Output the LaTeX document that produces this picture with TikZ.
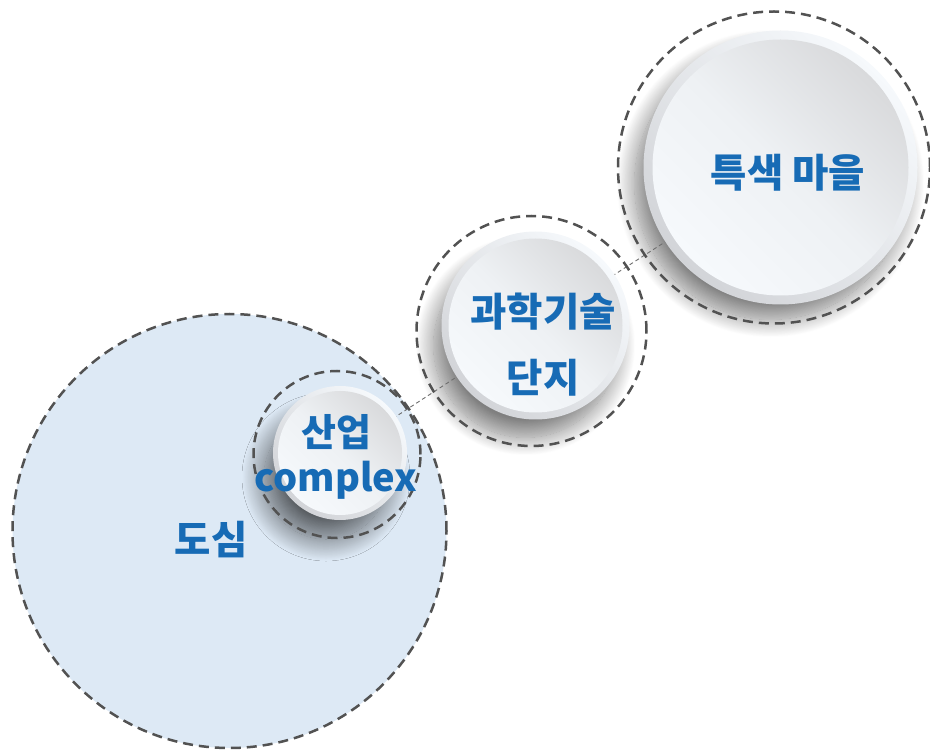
\documentclass[tikz,border=0pt]{standalone}
\usepackage{fontspec}
\newfontfamily\kr{Noto Sans CJK KR}
\usetikzlibrary{shadows.blur}
\definecolor{ringgray}{HTML}{525252}
\definecolor{conngray}{HTML}{6E6E6E}
\definecolor{lblblue}{HTML}{176BB5}
\definecolor{cityblue}{HTML}{DDE9F5}
\definecolor{ringlight}{HTML}{F6F9FC}
\definecolor{ringdark}{HTML}{D2D4D8}
\definecolor{diskgray}{HTML}{D9DADC}
\definecolor{diskmid}{HTML}{EEF1F4}
\definecolor{diskwhite}{HTML}{F6F9FC}
\tikzset{
  dashring/.style={draw=ringgray, line width=2.5pt, dash pattern=on 10pt off 6pt},
  conn/.style={draw=conngray, line width=0.9pt, dash pattern=on 4pt off 3pt},
  lbl/.style={text=lblblue, font=\kr\bfseries\fontsize{39.5pt}{44pt}\selectfont, align=center, inner sep=0pt},
  outerdisk/.style={circle, inner sep=0pt, top color=ringdark, bottom color=ringlight, shading angle=135},
  innerdisk/.style={circle, inner sep=0pt, top color=diskgray, bottom color=diskwhite, middle color=diskmid, shading angle=-45},
}
\begin{document}
\begin{tikzpicture}[x=1pt,y=-1pt]
\useasboundingbox (0,0) rectangle (930,751);
% centres
\coordinate (cCity) at (229.5,531);
\coordinate (cInd) at (340,453);
\coordinate (cSci) at (535.5,325.5);
\coordinate (cVil) at (780.5,167.5);
% city disc
\fill[cityblue] (cCity) circle (217pt);
% shadows
\path[blur shadow={shadow xshift=-14pt, shadow yshift=-24pt, shadow blur radius=22pt, shadow opacity=60, shadow blur steps=30}] (cInd) circle (62pt);
\path[blur shadow={shadow xshift=-10pt, shadow yshift=-20pt, shadow blur radius=18pt, shadow opacity=50, shadow blur steps=24}] (cSci) circle (92pt);
\path[blur shadow={shadow xshift=-10pt, shadow yshift=-16pt, shadow blur radius=18pt, shadow opacity=50, shadow blur steps=24}] (cVil) circle (136pt);
% connectors
\draw[conn] (cInd) -- (cSci);
\draw[conn] (cSci) -- (cVil);
% white discs
\node[outerdisk, minimum size=134pt] (indOuter) at (cInd) {};
\node[innerdisk, minimum size=124pt] (indInner) at (cInd) {};
\node[outerdisk, minimum size=188pt] (sciOuter) at (cSci) {};
\node[innerdisk, minimum size=174pt] (sciInner) at (cSci) {};
\node[outerdisk, minimum size=274pt] (vilOuter) at (cVil) {};
\node[innerdisk, minimum size=256pt] (vilInner) at (cVil) {};
% dashed rings
\node[dashring, circle, minimum size=434pt, inner sep=0pt] (cityRing) at (cCity) {};
\node[dashring, circle, minimum size=167pt, inner sep=0pt] (indRing) at (337,454.5) {};
\node[dashring, circle, minimum size=230pt, inner sep=0pt] (sciRing) at (531.5,331) {};
\node[dashring, circle, minimum size=312pt, inner sep=0pt] (vilRing) at (774,167.5) {};
% labels
\node[lbl] (tCity) at (211,540) {도심};
\node[lbl, font=\kr\bfseries\fontsize{38pt}{45pt}\selectfont] (tInd) at (336,457) {산업\\complex};
\node[lbl, font=\kr\bfseries\fontsize{39.5pt}{66pt}\selectfont] (tSci) at (543,345) {과학기술\\단지};
\node[lbl] (tVil) at (788,173) {특색 마을};
\end{tikzpicture}
\end{document}
